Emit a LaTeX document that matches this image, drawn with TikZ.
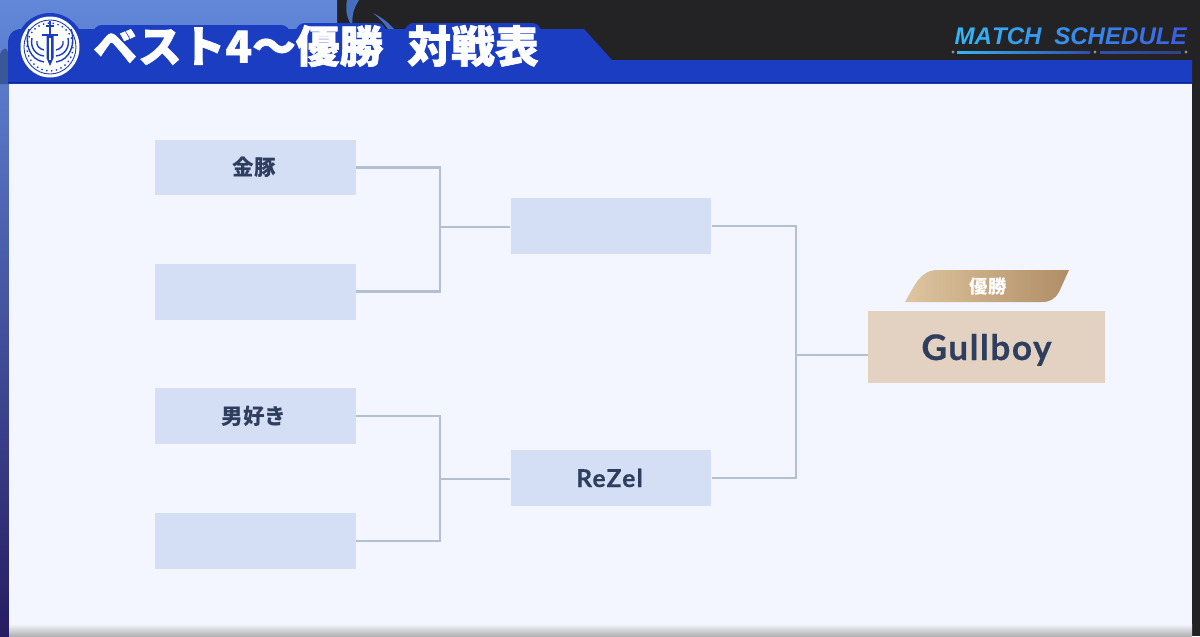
\documentclass[tikz,border=0pt]{standalone}
\usepackage{fontspec}
\setmainfont{Lato}
\newfontfamily\cjk{Noto Sans CJK JP}
\newfontfamily\titlefont[FakeBold=1.4]{Noto Sans CJK JP}
\newfontfamily\tagfont{Liberation Sans}
\usetikzlibrary{calc,positioning}
\definecolor{darkbg}{HTML}{232326}
\definecolor{tabblue}{HTML}{1A3DC2}
\definecolor{tabedge}{HTML}{0E2882}
\definecolor{panelbg}{HTML}{F3F6FE}
\definecolor{boxblue}{HTML}{D4DFF5}
\definecolor{boxgold}{HTML}{E3D1C1}
\definecolor{linegrey}{HTML}{B3C0D4}
\definecolor{inkblue}{HTML}{2F3E5E}
\definecolor{tagcyan}{HTML}{35B4F5}
\definecolor{tagblue}{HTML}{3A62E0}
\definecolor{skytop}{HTML}{6288DA}
\definecolor{skymid}{HTML}{3E4CAA}
\definecolor{skylow}{HTML}{261C62}
\definecolor{swirl}{HTML}{466EBE}
\definecolor{goldleft}{HTML}{DEC6A0}
\definecolor{goldright}{HTML}{B08D66}
\tikzset{
    teambox/.style={fill=boxblue,minimum width=4.02cm,minimum height=1.12cm,inner sep=0pt,text=inkblue,font=\bfseries\fontsize{12.3}{14}\selectfont},
    winnerbox/.style={fill=boxgold,minimum width=4.74cm,minimum height=1.44cm,inner sep=0pt,text=inkblue,font=\bfseries\fontsize{20}{24}\selectfont},
    bracket/.style={draw=linegrey,line width=1.3pt}
}
\newcommand{\mtchar}[2]{\textcolor{tagblue!#1!tagcyan}{#2}}
\begin{document}
\begin{tikzpicture}[x=0.02cm,y=-0.02cm]
    \useasboundingbox (0,0) rectangle (1200,636);

    % backdrop
    \fill[darkbg] (0,0) rectangle (1200,636);
    \shade[top color=skytop,middle color=skymid,bottom color=skylow] (0,0) rectangle (337,636);
    \fill[swirl!80!black] (0,84) -- (0,54) .. controls (3,47) and (7,47) .. (8,52) -- (8,84) -- cycle;
    \fill[swirl] (347,0) .. controls (345,10) and (347,20) .. (353,27) .. controls (351,16) and (354,8) .. (359,0) -- cycle;
    \fill[swirl] (373,13) .. controls (381,17) and (388,22) .. (394,29) -- (388,29) .. controls (384,23) and (379,18) .. (373,13) -- cycle;

    % title tab
    \fill[tabblue] (8,84) -- (8,44) .. controls (8,34) and (13,29) .. (22,29) -- (584,29) -- (612,60) -- (1192,60) -- (1192,84) -- cycle;
    \fill[tabblue,rounded corners=5pt] (93,25) rectangle (290,40);
    \fill[tabblue,rounded corners=5pt] (296,23) rectangle (386,40);
    \fill[tabblue,rounded corners=5pt] (405,23) rectangle (541,40);
    \draw[tabedge,line width=0.6pt] (8,82.5) -- (1192,82.5);

    % emblem
    \fill[tabblue] (50,47) circle (34);
    \fill[white] (50,47) ellipse (29.5 and 30.5);
    \draw[tabblue,line width=0.5pt] (50,47) ellipse (26 and 27);
    \draw[tabblue,line width=0.8pt,dotted] (50,47) ellipse (23 and 24);
    % wings
    \foreach \s in {1,-1} {
        \draw[tabblue,line width=0.8pt,shift={(50,47)},xscale=\s]
            (6,15) .. controls (20,13) and (26,-3) .. (21,-18);
        \draw[tabblue,line width=0.8pt,shift={(50,47)},xscale=\s]
            (6,9) .. controls (15,8) and (20,0) .. (18,-9);
        \draw[tabblue,line width=0.8pt,shift={(50,47)},xscale=\s]
            (6,3) .. controls (11,2) and (14,-2) .. (13,-6);
    }
    % sword
    \fill[tabblue] (46.5,36) -- (53.5,36) -- (53.5,58) -- (50,66) -- (46.5,58) -- cycle;
    \fill[white] (49.3,38) rectangle (50.7,60);
    \fill[tabblue] (42,33.5) rectangle (58,36);
    \fill[tabblue] (48.9,21) rectangle (51.1,33.5);
    \fill[tabblue] (46,24.5) rectangle (54,26.5);

    % heading texts
    \node[inner sep=0pt,anchor=west,text=white,font=\titlefont\bfseries\fontsize{24.9}{28}\selectfont] (title) at (93,46) {ベスト4～優勝\hspace{0.55em}対戦表};
    \node[inner sep=0pt,anchor=east,font=\tagfont\bfseries\itshape\fontsize{13.7}{16}\selectfont] (tagline) at (1187,36) {%
        \mtchar{0}{M}\mtchar{8}{A}\mtchar{16}{T}\mtchar{24}{C}\mtchar{32}{H}\ \hspace{0.25em}\mtchar{42}{S}\mtchar{50}{C}\mtchar{58}{H}\mtchar{66}{E}\mtchar{74}{D}\mtchar{82}{U}\mtchar{90}{L}\mtchar{100}{E}};
    \shade[left color=tagcyan,right color=tagblue!70!darkbg] (957,51.5) rectangle (1090,53);
    \shade[left color=tagblue!70!darkbg,right color=tagblue!50!darkbg] (1100,51.5) rectangle (1181,53);
    \foreach \x in {953,1095,1186}
        \fill[linegrey!70!darkbg] (\x,52) circle (1.6);

    % content panel
    \fill[panelbg] (9,84) rectangle (1192,636);
    \shade[top color=panelbg,bottom color=black!30] (9,624) rectangle (1192,636);

    % first round
    \foreach \name/\y/\lbl in {semia/167.5/金豚,semib/291.5/,semic/416/男好き,semid/541/}
        \node[teambox] (\name) at (255.5,\y) {\kern-0.06cm\cjk\lbl};
    % second round
    \node[teambox] (fina) at (611,226) {};
    \node[teambox,font=\bfseries\fontsize{14}{16}\selectfont] (finb) at (611,478) {\addfontfeature{LetterSpace=5,FakeBold=0.4}\kern-0.06cm\raisebox{-0.18cm}[0pt][0pt]{ReZel}};
    % winner
    \node[winnerbox] (champ) at (986.5,347) {\addfontfeature{LetterSpace=4.5,FakeBold=0.5}\raisebox{-0.26cm}[0pt][0pt]{Gullboy}};
    \shade[left color=goldleft,right color=goldright]
        (905,302) .. controls (915,285) and (920,270) .. (938,270) -- (1069,270) -- (1059,292) .. controls (1055,299) and (1050,302) .. (1042,302) -- cycle;
    \node[inner sep=0pt,text=white,font=\cjk\bfseries\fontsize{10.5}{13}\selectfont] (crown) at (988,287) {優勝};

    % brackets
    \coordinate (joina) at (440,227);
    \coordinate (joinb) at (440,479);
    \coordinate (joinc) at (796,355);
    \draw[bracket] (semia.east) -| (joina);
    \draw[bracket] (semib.east) -| (joina);
    \draw[bracket] (joina) -- (joina -| fina.west);
    \draw[bracket] (semic.east) -| (joinb);
    \draw[bracket] (semid.east) -| (joinb);
    \draw[bracket] (joinb) -- (joinb -| finb.west);
    \draw[bracket] (fina.east) -| (joinc);
    \draw[bracket] (finb.east) -| (joinc);
    \draw[bracket] (joinc) -- (joinc -| champ.west);
\end{tikzpicture}
\end{document}
